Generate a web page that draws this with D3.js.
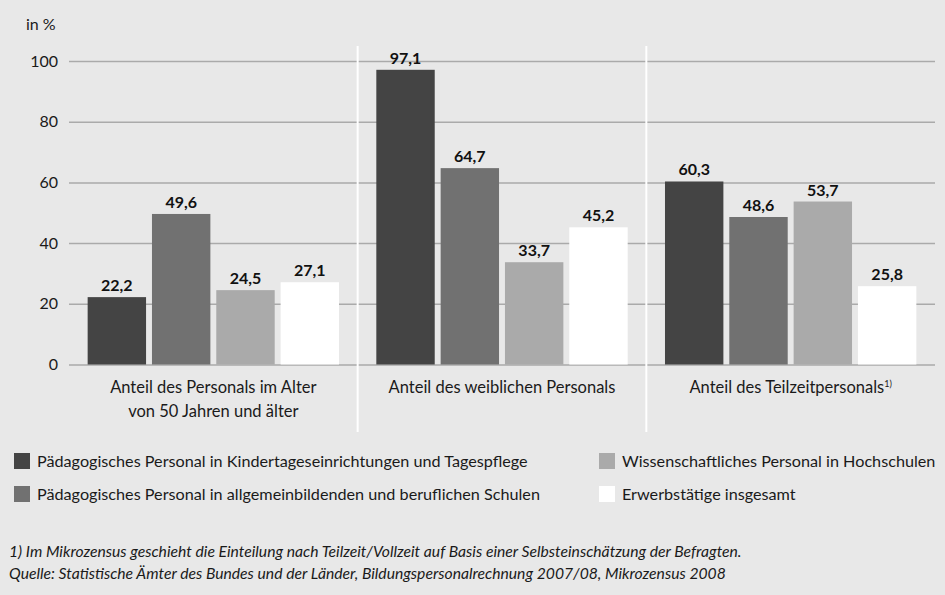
<!DOCTYPE html>
<html>
<head>
<meta charset="utf-8">
<script src="https://cdn.jsdelivr.net/npm/d3@7/dist/d3.min.js"></script>
<style>
  body { margin: 0; background: #e8e8e8; }
  svg { display: block; font-family: Lato, "Open Sans", sans-serif; }
</style>
</head>
<body>
<div id="chart"></div>
<script>
// categories (groups) and series
let groups = ["alter", "weiblich", "teilzeit"]
let groupLabels = [["Anteil des Personals im Alter", "von 50 Jahren und älter"],
                   ["Anteil des weiblichen Personals"],
                   ["Anteil des Teilzeitpersonals"]]
let seriesNames = ["Pädagogisches Personal in Kindertageseinrichtungen und Tagespflege",
                   "Pädagogisches Personal in allgemeinbildenden und beruflichen Schulen",
                   "Wissenschaftliches Personal in Hochschulen",
                   "Erwerbstätige insgesamt"]
let kita    = [22.2, 97.1, 60.3]
let schulen = [49.6, 64.7, 48.6]
let hochsch = [24.5, 33.7, 53.7]
let gesamt  = [27.1, 45.2, 25.8]
let yTicks = [0, 20, 40, 60, 80, 100]

let colors = ["#444444", "#717171", "#aaaaaa", "#ffffff"]
let seriesValues = [kita, schulen, hochsch, gesamt]

const width = 945, height = 595
const margin = {left: 69, right: 10, top: 61, bottom: 230}
const fs = "16px"

let svg = d3.select("#chart")
    .append("svg")
    .attr("width", width)
    .attr("height", height)

svg.append("rect").attr("width", width).attr("height", height).attr("fill", "#e8e8e8")

let x0 = d3.scaleBand()
    .domain(groups)
    .range([margin.left, 935])
    .padding(0)

let x1 = d3.scaleBand()
    .domain(d3.range(seriesNames.length))
    .range([0, x0.bandwidth()])
    .paddingInner(0.092)
    .paddingOuter(0.29)

let y = d3.scaleLinear()
    .domain([0, 100])
    .range([364.5, 61])

// gridlines + y labels
let yAxis = svg.append("g")
    .attr("transform", `translate(${margin.left},0)`)
    .call(d3.axisLeft(y).tickValues(yTicks).tickSize(-(935 - margin.left)).tickPadding(11))
yAxis.select(".domain").remove()
yAxis.selectAll(".tick line").attr("stroke", "#aaaaaa").attr("stroke-width", 1.5)
yAxis.selectAll(".tick text")
    .attr("fill", "#1a1a1a")
    .style("font-size", fs)
    .style("font-family", "Lato, sans-serif")

svg.append("text")
    .attr("x", 26).attr("y", 30)
    .style("font-size", fs)
    .attr("fill", "#1a1a1a")
    .text("in %")

// bars
let gGroups = svg.selectAll(".grp")
    .data(groups)
    .enter()
    .append("g")
    .attr("transform", d => `translate(${x0(d)},0)`)

gGroups.each(function(g, gi) {
    let sel = d3.select(this)
    let vals = seriesValues.map((s, si) => ({si: si, v: s[gi]}))
    sel.selectAll("rect")
        .data(vals)
        .enter()
        .append("rect")
        .attr("x", d => x1(d.si))
        .attr("width", x1.bandwidth())
        .attr("y", d => y(d.v))
        .attr("height", d => y(0) - y(d.v))
        .attr("fill", d => colors[d.si])
    sel.selectAll(".val")
        .data(vals)
        .enter()
        .append("text")
        .attr("x", d => x1(d.si) + x1.bandwidth() / 2)
        .attr("y", d => y(d.v) - 6)
        .attr("text-anchor", "middle")
        .style("font-size", fs)
        .style("font-weight", "bold")
        .attr("fill", "#111")
        .text(d => d.v.toFixed(1).replace(".", ","))
})

// dividers
groups.slice(1).forEach(g => {
    svg.append("line")
        .attr("x1", x0(g)).attr("x2", x0(g))
        .attr("y1", 46).attr("y2", 432)
        .attr("stroke", "#ffffff")
        .attr("stroke-width", 2)
})

// group labels
groups.forEach((g, gi) => {
    let t = svg.append("text")
        .attr("x", x0(g) + x0.bandwidth() / 2)
        .attr("y", 393)
        .attr("text-anchor", "middle")
        .style("font-size", "16.5px")
        .attr("fill", "#1a1a1a")
    groupLabels[gi].forEach((line, li) => {
        t.append("tspan")
            .attr("x", x0(g) + x0.bandwidth() / 2)
            .attr("dy", li == 0 ? 0 : 24)
            .text(line)
    })
    if (g == "teilzeit") {
        t.append("tspan").attr("dy", -6).style("font-size", "9px").text("1)")
    }
})

// legend
let legendPos = [[14, 461], [14, 494], [599, 461], [599, 494]]
seriesNames.forEach((name, i) => {
    let p = legendPos[i]
    svg.append("rect")
        .attr("x", p[0]).attr("y", p[1] - 8)
        .attr("width", 16).attr("height", 16)
        .attr("fill", colors[i])
    svg.append("text")
        .attr("x", p[0] + 23).attr("y", p[1] + 5.5)
        .style("font-size", "16.2px")
        .attr("fill", "#1a1a1a")
        .text(name)
})

// footnotes
let notes = ["1) Im Mikrozensus geschieht die Einteilung nach Teilzeit/Vollzeit auf Basis einer Selbsteinschätzung der Befragten.",
             "Quelle: Statistische Ämter des Bundes und der Länder, Bildungspersonalrechnung 2007/08, Mikrozensus 2008"]
notes.forEach((n, i) => {
    svg.append("text")
        .attr("x", 9).attr("y", 557 + i * 22)
        .style("font-size", "15.7px")
        .style("font-style", "italic")
        .attr("fill", "#1a1a1a")
        .text(n)
})
</script>
</body>
</html>
